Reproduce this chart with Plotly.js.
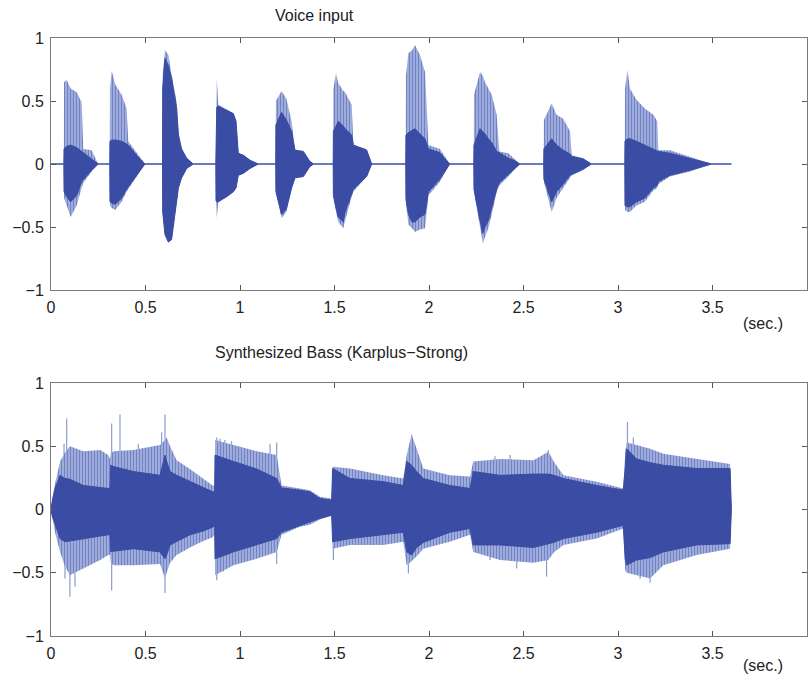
<!DOCTYPE html>
<html>
<head>
<meta charset="utf-8">
<script src="https://cdn.plot.ly/plotly-3.0.1.min.js"></script>
<style>html,body{margin:0;padding:0;background:#fff;}#chart{width:809px;height:679px;}</style>
</head>
<body>
<div id="chart"></div>
<script>
// ---------- Top panel: voice input envelope ----------
const voiceT = [0,0.068,0.069,0.083,0.104,0.136,0.162,0.171,0.215,0.25,
  0.311,0.312,0.321,0.34,0.374,0.40,0.409,0.453,0.497,
  0.590,0.591,0.603,0.621,0.638,0.656,0.665,0.674,0.691,0.718,0.753,
  0.872,0.873,0.877,0.885,0.929,0.965,0.979,0.991,1.018,1.053,1.097,
  1.189,1.190,1.220,1.245,1.273,1.291,1.335,1.37,1.39,
  1.493,1.494,1.508,1.52,1.547,1.556,1.591,1.60,1.67,1.697,
  1.877,1.878,1.891,1.91,1.926,1.952,1.979,1.997,2.058,2.08,2.11,
  2.237,2.238,2.27,2.285,2.296,2.314,2.332,2.358,2.372,2.42,2.45,2.481,
  2.607,2.608,2.649,2.675,2.71,2.746,2.755,2.816,2.86,
  3.036,3.037,3.05,3.063,3.098,3.142,3.187,3.208,3.213,3.275,3.381,3.496,3.60];
const voiceOuterHi = [0,0,0.65,0.667,0.60,0.57,0.49,0.12,0.11,0,
  0,0.60,0.74,0.63,0.55,0.44,0.18,0.085,0,
  0,0.70,0.905,0.865,0.71,0.58,0.49,0.26,0.12,0.045,0,
  0,0.45,0.68,0.47,0.43,0.40,0.34,0.085,0.07,0.03,0,
  0,0.50,0.58,0.52,0.34,0.11,0.10,0.02,0,
  0,0.60,0.72,0.64,0.58,0.57,0.47,0.15,0.12,0,
  0,0.70,0.88,0.90,0.944,0.865,0.73,0.15,0.12,0.07,0,
  0,0.55,0.73,0.70,0.65,0.60,0.55,0.39,0.10,0.085,0.045,0,
  0,0.35,0.48,0.39,0.36,0.26,0.07,0.045,0,
  0,0.60,0.746,0.60,0.51,0.44,0.39,0.34,0.11,0.11,0.06,0,0];
const voiceInnerHi = [0,0,0.12,0.14,0.15,0.13,0.10,0.09,0.045,0,
  0,0.18,0.19,0.19,0.18,0.16,0.15,0.07,0,
  0,0.60,0.84,0.78,0.68,0.52,0.44,0.23,0.12,0.045,0,
  0,0.45,0.45,0.46,0.43,0.40,0.34,0.085,0.07,0.03,0,
  0,0.31,0.41,0.35,0.26,0.11,0.10,0.02,0,
  0,0.26,0.30,0.34,0.30,0.28,0.23,0.15,0.11,0,
  0,0.23,0.25,0.27,0.28,0.24,0.20,0.12,0.09,0.05,0,
  0,0.15,0.28,0.26,0.24,0.20,0.17,0.10,0.09,0.045,0.03,0,
  0,0.12,0.20,0.15,0.11,0.08,0.06,0.04,0,
  0,0.18,0.20,0.20,0.18,0.15,0.12,0.10,0.10,0.085,0.045,0,0];
const voiceInnerLo = [0,0,-0.22,-0.26,-0.30,-0.25,-0.14,-0.12,-0.05,0,
  0,-0.30,-0.31,-0.32,-0.27,-0.20,-0.18,-0.09,0,
  0,-0.38,-0.56,-0.62,-0.60,-0.40,-0.30,-0.19,-0.11,-0.035,0,
  0,-0.29,-0.30,-0.30,-0.26,-0.22,-0.19,-0.09,-0.074,-0.035,0,
  0,-0.22,-0.40,-0.36,-0.19,-0.11,-0.10,-0.02,0,
  0,-0.25,-0.35,-0.42,-0.46,-0.38,-0.24,-0.20,-0.10,0,
  0,-0.28,-0.40,-0.46,-0.46,-0.42,-0.40,-0.22,-0.12,-0.07,0,
  0,-0.20,-0.45,-0.55,-0.50,-0.45,-0.35,-0.20,-0.15,-0.08,-0.04,0,
  0,-0.12,-0.30,-0.22,-0.16,-0.09,-0.08,-0.04,0,
  0,-0.33,-0.34,-0.34,-0.30,-0.27,-0.19,-0.17,-0.14,-0.09,-0.05,0,0];
const voiceOuterLo = [0,0,-0.27,-0.33,-0.42,-0.33,-0.19,-0.15,-0.06,0,
  0,-0.33,-0.35,-0.365,-0.30,-0.22,-0.20,-0.10,0,
  0,-0.38,-0.56,-0.62,-0.60,-0.40,-0.30,-0.19,-0.11,-0.035,0,
  0,-0.29,-0.43,-0.30,-0.26,-0.22,-0.19,-0.09,-0.074,-0.035,0,
  0,-0.22,-0.43,-0.38,-0.19,-0.11,-0.10,-0.02,0,
  0,-0.25,-0.38,-0.46,-0.51,-0.45,-0.26,-0.22,-0.10,0,
  0,-0.30,-0.48,-0.51,-0.54,-0.52,-0.51,-0.25,-0.14,-0.08,0,
  0,-0.22,-0.50,-0.63,-0.58,-0.51,-0.40,-0.22,-0.17,-0.10,-0.05,0,
  0,-0.14,-0.38,-0.27,-0.19,-0.11,-0.09,-0.05,0,
  0,-0.365,-0.38,-0.38,-0.33,-0.30,-0.21,-0.19,-0.16,-0.10,-0.06,0,0];

// ---------- Bottom panel: synthesized bass envelope ----------
const bassT = [0,0.006,0.021,0.048,0.074,0.10,0.171,0.26,0.303,0.312,0.316,0.33,0.436,0.577,0.603,0.612,0.63,0.665,0.735,0.806,0.855,0.866,
  0.868,0.965,1.088,1.194,1.22,1.317,1.37,1.423,1.485,1.49,1.582,1.758,1.864,1.882,1.908,1.935,1.97,2.11,2.217,2.234,2.376,2.553,2.632,2.66,2.711,2.887,3.028,
  3.038,3.046,3.098,3.17,3.24,3.416,3.593,3.600];
const bassOuterHi = [0,0.08,0.20,0.38,0.45,0.50,0.46,0.47,0.43,0.40,0.44,0.46,0.47,0.51,0.55,0.57,0.50,0.39,0.32,0.245,0.19,0.19,
  0.55,0.51,0.46,0.43,0.19,0.166,0.153,0.10,0.087,0.337,0.324,0.27,0.245,0.43,0.59,0.48,0.324,0.27,0.26,0.38,0.40,0.39,0.456,0.38,0.27,0.22,0.166,
  0.45,0.53,0.51,0.48,0.44,0.40,0.36,0];
const bassInnerHi = [0,0.06,0.166,0.27,0.245,0.24,0.19,0.17,0.166,0.17,0.35,0.34,0.30,0.27,0.43,0.38,0.30,0.27,0.22,0.17,0.14,0.14,
  0.43,0.38,0.32,0.245,0.17,0.153,0.14,0.087,0.074,0.324,0.245,0.22,0.19,0.38,0.35,0.30,0.245,0.19,0.166,0.30,0.27,0.28,0.28,0.27,0.245,0.19,0.153,
  0.324,0.48,0.40,0.37,0.35,0.324,0.324,0];
const bassInnerLo = [0,-0.05,-0.12,-0.23,-0.255,-0.25,-0.23,-0.21,-0.20,-0.20,-0.335,-0.33,-0.31,-0.335,-0.39,-0.36,-0.28,-0.25,-0.20,-0.17,-0.14,-0.125,
  -0.39,-0.335,-0.28,-0.23,-0.18,-0.125,-0.10,-0.07,-0.045,-0.255,-0.23,-0.20,-0.18,-0.335,-0.36,-0.30,-0.26,-0.18,-0.15,-0.28,-0.28,-0.30,-0.27,-0.26,-0.23,-0.18,-0.125,
  -0.39,-0.44,-0.40,-0.38,-0.335,-0.28,-0.27,0];
const bassOuterLo = [0,-0.07,-0.18,-0.335,-0.45,-0.52,-0.47,-0.40,-0.36,-0.36,-0.42,-0.44,-0.44,-0.43,-0.545,-0.50,-0.42,-0.36,-0.30,-0.25,-0.22,-0.20,
  -0.52,-0.44,-0.39,-0.335,-0.20,-0.137,-0.12,-0.08,-0.05,-0.31,-0.28,-0.28,-0.255,-0.44,-0.41,-0.37,-0.31,-0.255,-0.20,-0.335,-0.40,-0.42,-0.40,-0.34,-0.28,-0.23,-0.15,
  -0.48,-0.50,-0.52,-0.545,-0.44,-0.36,-0.31,0];
// isolated spikes that reach past the envelope
const bassSpikeT = [0.069,0.083,0.321,0.365,0.462,0.585,0.603,0.877,0.894,0.920,0.955,1.159,1.194,1.908,2.349,2.429,2.631,3.05,3.081,3.13,
  0.074,0.10,0.127,0.321,0.603,0.877,0.912,1.194,1.494,1.891,2.323,2.464,2.622,3.117,3.17];
const bassSpikeV = [0.52,0.72,0.68,0.75,0.52,0.61,0.75,0.57,0.56,0.55,0.54,0.52,0.53,0.59,0.42,0.43,0.47,0.69,0.57,0.48,
  -0.545,-0.69,-0.61,-0.64,-0.66,-0.56,-0.49,-0.43,-0.40,-0.505,-0.40,-0.466,-0.53,-0.55,-0.58];

// ---------- ticks / text ----------
const xTicks = [0,0.5,1,1.5,2,2.5,3,3.5,4];
const xTickText = ['0','0.5','1','1.5','2','2.5','3','3.5','4'];
const yTicks = [-1,-0.5,0,0.5,1];
const yTickText = ['\u22121','\u22120.5','0','0.5','1'];
const titleTop = 'Voice input';
const titleBottom = 'Synthesized Bass (Karplus\u2212Strong)';
const unitLabel = '(sec.)';

const DARK = '#3a4ca3';
const LIGHT = '#8d9bd1';
const LIGHT_BG = '#a9b4df';
const LIGHT_FG = '#7083c4';

function band(t, hi, lo, xa, ya, color, lw, striped) {
  const tr = {
    x: t.concat(t.slice().reverse()),
    y: hi.concat(lo.slice().reverse()),
    xaxis: xa, yaxis: ya, type: 'scatter', mode: 'lines',
    fill: 'toself', fillcolor: color,
    line: {color: color, width: lw}, hoverinfo: 'skip', showlegend: false
  };
  if (striped) {
    tr.fillpattern = {shape: '|', size: 3, solidity: 0.45, fgcolor: LIGHT_FG, bgcolor: LIGHT_BG, fillmode: 'replace'};
  }
  return tr;
}
function spikes(t, v, xa, ya, color) {
  const xs = [], ys = [];
  t.forEach((ti, i) => { xs.push(ti, ti, null); ys.push(0, v[i], null); });
  return {x: xs, y: ys, xaxis: xa, yaxis: ya, type: 'scatter', mode: 'lines',
    line: {color: color, width: 1.2}, hoverinfo: 'skip', showlegend: false};
}

const traces = [
  band(voiceT, voiceOuterHi, voiceOuterLo, 'x', 'y', LIGHT, 0, true),
  band(voiceT, voiceInnerHi, voiceInnerLo, 'x', 'y', DARK, 1, false),
  spikes(bassSpikeT, bassSpikeV, 'x2', 'y2', LIGHT),
  band(bassT, bassOuterHi, bassOuterLo, 'x2', 'y2', LIGHT, 0, true),
  band(bassT, bassInnerHi, bassInnerLo, 'x2', 'y2', DARK, 1, false)
];

const FONT = {family: 'Liberation Sans, Arial, sans-serif', size: 16, color: '#222'};
function xax(anchor) {
  return {anchor: anchor, range: [0, 4], tickvals: xTicks, ticktext: xTickText,
    showline: true, mirror: 'ticks', linecolor: '#7a7a7a', linewidth: 1,
    ticks: 'inside', ticklen: 5, tickcolor: '#555', tickwidth: 1,
    showgrid: false, zeroline: false, tickfont: FONT, ticklabelstandoff: 3, fixedrange: true};
}
function yax(anchor, dom) {
  return {anchor: anchor, domain: dom, range: [-1, 1], tickvals: yTicks, ticktext: yTickText,
    showline: true, mirror: 'ticks', linecolor: '#7a7a7a', linewidth: 1,
    ticks: 'inside', ticklen: 5, tickcolor: '#555', tickwidth: 1,
    showgrid: false, zeroline: false, tickfont: FONT, ticklabelstandoff: 3, fixedrange: true};
}

const layout = {
  width: 809, height: 679,
  margin: {l: 51, r: 2, t: 38, b: 43},
  paper_bgcolor: '#ffffff', plot_bgcolor: '#ffffff',
  showlegend: false,
  xaxis: xax('y'), yaxis: yax('x', [0.5786, 1]),
  xaxis2: xax('y2'), yaxis2: yax('x2', [0, 0.4231]),
  annotations: [
    {text: titleTop, xref: 'paper', yref: 'paper', x: 0.349, y: 1.0368, showarrow: false, font: FONT, xanchor: 'center', yanchor: 'middle'},
    {text: titleBottom, xref: 'paper', yref: 'paper', x: 0.3836, y: 0.4749, showarrow: false, font: FONT, xanchor: 'center', yanchor: 'middle'},
    {text: unitLabel, xref: 'paper', yref: 'paper', x: 0.942, y: 0.5234, showarrow: false, font: FONT, xanchor: 'center', yanchor: 'middle'},
    {text: unitLabel, xref: 'paper', yref: 'paper', x: 0.942, y: -0.0485, showarrow: false, font: FONT, xanchor: 'center', yanchor: 'middle'}
  ]
};

Plotly.newPlot('chart', traces, layout, {displayModeBar: false, staticPlot: true});
</script>
</body>
</html>
